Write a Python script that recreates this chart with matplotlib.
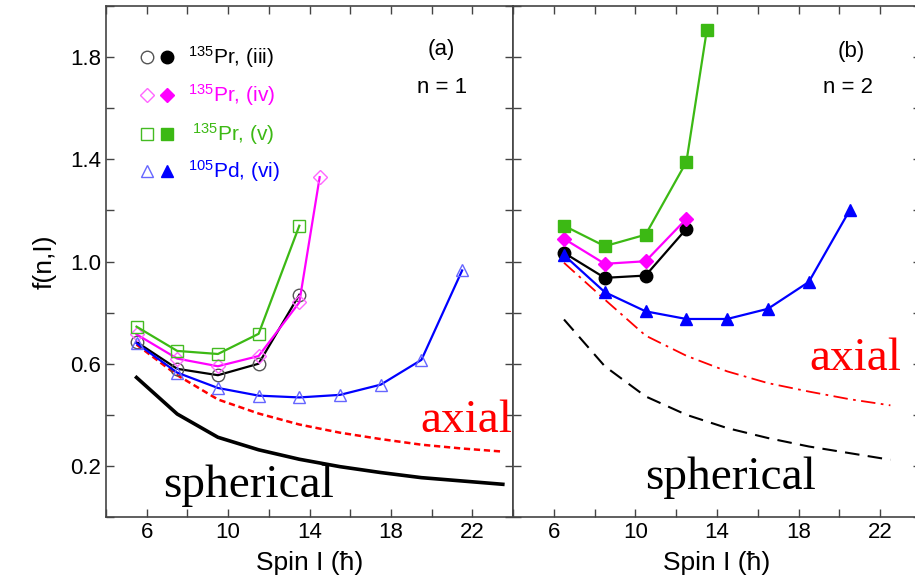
import matplotlib
matplotlib.use("Agg")
import matplotlib.pyplot as plt
from matplotlib.ticker import MultipleLocator

plt.rcParams['font.family'] = ['Liberation Sans', 'DejaVu Sans']
plt.rcParams['mathtext.default'] = 'regular'

# ---- panel (a), n = 1 (open symbols) ----
spin_a_iii = [5.5, 7.5, 9.5, 11.5, 13.5]
f_a_iii = [0.685, 0.58, 0.555, 0.60, 0.87]
spin_a_iv = [5.5, 7.5, 9.5, 11.5, 13.5, 14.5]
f_a_iv = [0.715, 0.62, 0.59, 0.63, 0.84, 1.33]
spin_a_v = [5.5, 7.5, 9.5, 11.5, 13.5]
f_a_v = [0.745, 0.65, 0.638, 0.717, 1.14]
spin_a_vi = [5.5, 7.5, 9.5, 11.5, 13.5, 15.5, 17.5, 19.5, 21.5]
f_a_vi = [0.68, 0.565, 0.505, 0.475, 0.468, 0.478, 0.518, 0.615, 0.965]

spin_a_th = [5.5, 7.5, 9.5, 11.5, 13.5, 15.5, 17.5, 19.5, 21.5, 23.5]
f_a_axial = [0.675, 0.555, 0.46, 0.405, 0.362, 0.33, 0.305, 0.283, 0.268, 0.256]
f_a_sph = [0.546, 0.403, 0.312, 0.263, 0.226, 0.197, 0.174, 0.154, 0.141, 0.128]

# ---- panel (b), n = 2 (filled symbols) ----
spin_b_iii = [6.5, 8.5, 10.5, 12.5]
f_b_iii = [1.034, 0.936, 0.945, 1.128]
spin_b_iv = [6.5, 8.5, 10.5, 12.5]
f_b_iv = [1.089, 0.991, 1.001, 1.167]
spin_b_v = [6.5, 8.5, 10.5, 12.5, 13.5]
f_b_v = [1.14, 1.06, 1.105, 1.39, 1.905]
spin_b_vi = [6.5, 8.5, 10.5, 12.5, 14.5, 16.5, 18.5, 20.5]
f_b_vi = [1.025, 0.88, 0.805, 0.775, 0.775, 0.815, 0.92, 1.2]

spin_b_th = [6.5, 8.5, 10.5, 12.5, 14.5, 16.5, 18.5, 20.5, 22.5]
f_b_axial = [0.995, 0.851, 0.71, 0.631, 0.57, 0.524, 0.491, 0.461, 0.437]
f_b_sph = [0.773, 0.59, 0.472, 0.40, 0.348, 0.309, 0.276, 0.25, 0.224]

labels = ['(iii)', '(iv)', '(v)', '(vi)']
nuclei = ['135', '135', '135', '105']
elems = ['Pr', 'Pr', 'Pr', 'Pd']
line_colors = ['black', '#ff00ff', '#3cb914', '#0000ff']
open_colors = ['#555555', '#ff66ff', '#44bb22', '#6666ff']
markers = ['o', 'D', 's', '^']
msizes = [9, 7, 8, 9]

fig = plt.figure(figsize=(9.15, 5.79), dpi=100)
ax_a = fig.add_axes([106 / 915, 62 / 579, 407 / 915, 511 / 579])
ax_b = fig.add_axes([513 / 915, 62 / 579, 408 / 915, 511 / 579])

data_a = [(spin_a_iii, f_a_iii), (spin_a_iv, f_a_iv), (spin_a_v, f_a_v), (spin_a_vi, f_a_vi)]
data_b = [(spin_b_iii, f_b_iii), (spin_b_iv, f_b_iv), (spin_b_v, f_b_v), (spin_b_vi, f_b_vi)]

# theory curves
ax_a.plot(spin_a_th, f_a_sph, color='black', lw=2.6)
ax_a.plot(spin_a_th, f_a_axial, color='red', lw=1.8, dashes=(2.5, 1.5))
ax_b.plot(spin_b_th, f_b_sph, color='black', lw=1.5, dashes=(7, 4))
ax_b.plot(spin_b_th, f_b_axial, color='red', lw=1.3, dashes=(8, 3, 1.5, 3))

for i in range(4):
    xs, ys = data_a[i]
    ax_a.plot(xs, ys, color=line_colors[i], lw=1.6, marker=markers[i], ms=msizes[i],
              mfc='none', mec=open_colors[i], mew=1.0)
    xs, ys = data_b[i]
    ax_b.plot(xs, ys, color=line_colors[i], lw=1.6, marker=markers[i], ms=msizes[i],
              mfc=line_colors[i], mec=line_colors[i])

# legend drawn by hand inside panel (a)
leg_y = [1.8, 1.65, 1.5, 1.355]
for i in range(4):
    ax_a.plot([6.0], [leg_y[i]], marker=markers[i], ms=msizes[i], mfc='none',
              mec=open_colors[i], mew=1.0, ls='none')
    ax_a.plot([7.0], [leg_y[i]], marker=markers[i], ms=msizes[i], mfc=line_colors[i],
              mec=line_colors[i], ls='none')
    tx = 8.25 if i == 2 else 8.05
    ax_a.text(tx, leg_y[i], '$^{' + nuclei[i] + '}$' + elems[i] + ', ' + labels[i],
              color=line_colors[i], fontsize=15, va='center', ha='left')

ax_a.text(20.5, 1.83, '(a)', fontsize=16, ha='center', va='center')
ax_a.text(20.5, 1.68, 'n = 1', fontsize=16, ha='center', va='center')
ax_b.text(20.6, 1.82, '(b)', fontsize=16, ha='center', va='center')
ax_b.text(20.4, 1.68, 'n = 2', fontsize=16, ha='center', va='center')

serif = ['Liberation Serif', 'DejaVu Serif']
ax_a.text(19.44, 0.334, 'axial', color='red', fontsize=34, family=serif,
          ha='left', va='baseline')
ax_a.text(6.82, 0.08, 'spherical', color='black', fontsize=34, family=serif,
          ha='left', va='baseline')
ax_b.text(18.53, 0.576, 'axial', color='red', fontsize=34, family=serif,
          ha='left', va='baseline')
ax_b.text(10.5, 0.11, 'spherical', color='black', fontsize=34, family=serif,
          ha='left', va='baseline')

for ax in (ax_a, ax_b):
    ax.set_xlim(4, 24)
    ax.set_ylim(0, 2.0)
    ax.set_xticks([6, 10, 14, 18, 22])
    ax.xaxis.set_minor_locator(MultipleLocator(2))
    ax.set_yticks([0.2, 0.6, 1.0, 1.4, 1.8])
    ax.yaxis.set_minor_locator(MultipleLocator(0.2))
    ax.tick_params(which='both', direction='in', top=True, right=True,
                   length=6, width=1.0, color='#444444', labelsize=16)
    for s in ax.spines.values():
        s.set_color('#444444')
        s.set_linewidth(1.2)
    ax.set_xlabel('Spin I (\u0127)', fontsize=19, labelpad=6)

ax_b.tick_params(labelleft=False)
ax_a.set_ylabel('f(n,I)', fontsize=19, labelpad=10)

fig.savefig('out.png', dpi=100)
